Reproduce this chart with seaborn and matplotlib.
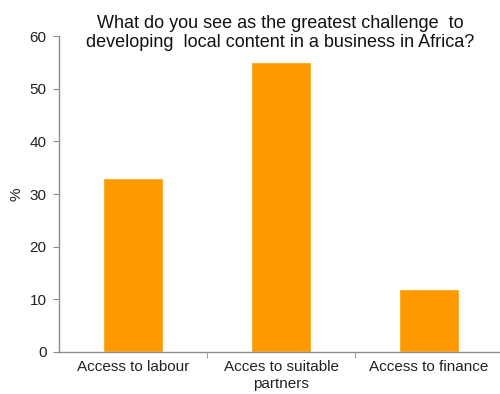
import matplotlib
matplotlib.use('Agg')
import matplotlib.pyplot as plt
import seaborn as sns
import pandas as pd

# Data
categories = ['Access to labour', 'Acces to suitable\npartners', 'Access to finance']
values = [33, 55, 12]

sns.set_style('white')
plt.rcParams['font.family'] = ['Liberation Sans', 'DejaVu Sans']

df = pd.DataFrame({'challenge': categories, 'pct': values})

fig = plt.figure(figsize=(5, 3.94), dpi=100)
ax = fig.add_axes([0.118, 0.1066, 0.888, 0.802])
sns.barplot(data=df, x='challenge', y='pct', color='#FF9900', saturation=1,
            width=0.41, ax=ax)

ax.set_xlim(-0.5, 2.5)
ax.set_ylim(0, 60)
ax.set_yticks(range(0, 61, 10))
ax.set_xlabel('')
ax.set_ylabel('%', fontsize=11, color='#222222', labelpad=4)

for s in ['top', 'right']:
    ax.spines[s].set_visible(False)
for s in ['left', 'bottom']:
    ax.spines[s].set_color('#8c8c8c')
    ax.spines[s].set_linewidth(1)

ax.tick_params(axis='y', which='major', left=True, length=4, color='#8c8c8c',
               labelsize=11, labelcolor='#222222', pad=5)
ax.tick_params(axis='x', which='major', bottom=False, labelsize=11,
               labelcolor='#222222', pad=6, length=0)
ax.set_xticks([0.5, 1.5], minor=True)
ax.tick_params(axis='x', which='minor', bottom=True, length=4, color='#8c8c8c')
for lbl in ax.get_xticklabels():
    lbl.set_linespacing(1.25)

fig.text(0.56, 0.962, 'What do you see as the greatest challenge  to\n'
         'developing  local content in a business in Africa?',
         ha='center', va='top', fontsize=13, color='#111111', linespacing=1.15)

fig.savefig('out.png', dpi=100)
